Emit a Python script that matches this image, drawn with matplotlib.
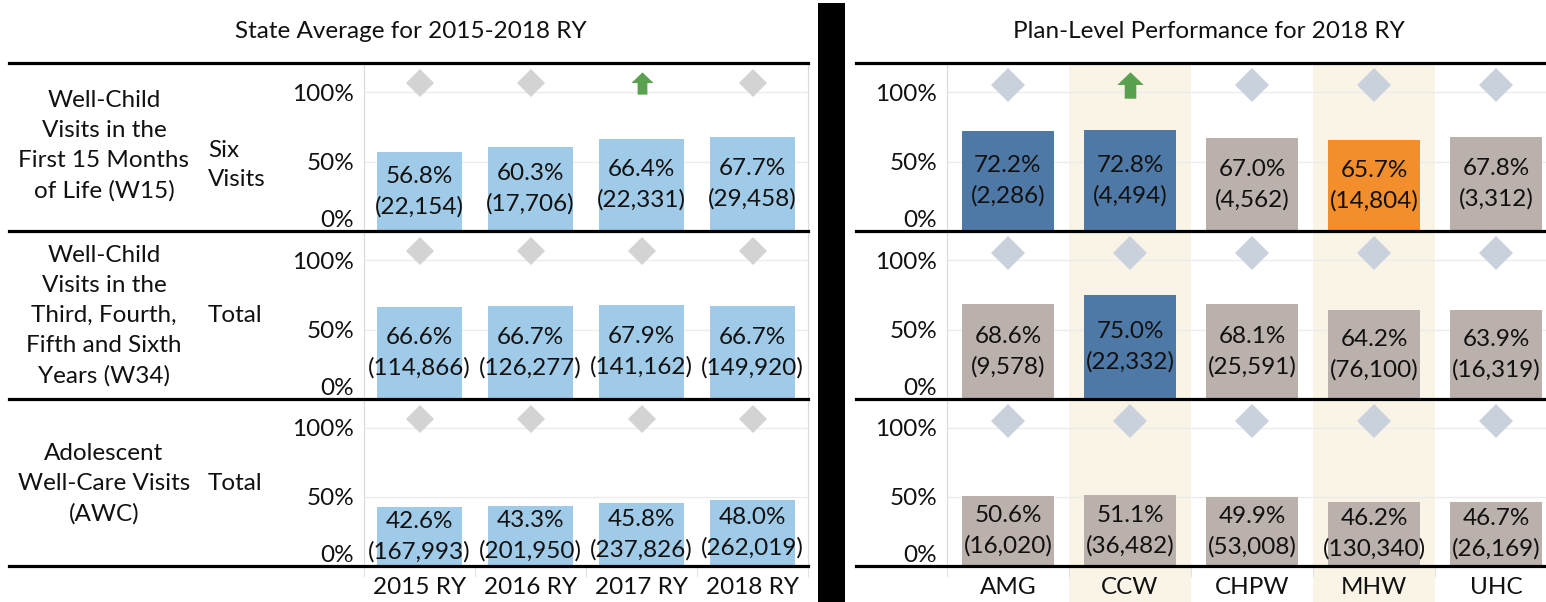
import matplotlib
matplotlib.use('Agg')
import matplotlib.pyplot as plt
from matplotlib.path import Path
from matplotlib.lines import Line2D
from matplotlib.patches import Rectangle

plt.rcParams['font.family'] = ['Lato', 'DejaVu Sans']

# ---------------- data ----------------
years = ['2015 RY', '2016 RY', '2017 RY', '2018 RY']
plans = ['AMG', 'CCW', 'CHPW', 'MHW', 'UHC']

measure_names = ['Well-Child\nVisits in the\nFirst 15 Months\nof Life (W15)',
                 'Well-Child\nVisits in the\nThird, Fourth,\nFifth and Sixth\nYears (W34)',
                 'Adolescent\nWell-Care Visits\n(AWC)']
submeasures = ['Six\nVisits', 'Total', 'Total']

state_rates = [[56.8, 60.3, 66.4, 67.7],
               [66.6, 66.7, 67.9, 66.7],
               [42.6, 43.3, 45.8, 48.0]]
state_denoms = [[22154, 17706, 22331, 29458],
                [114866, 126277, 141162, 149920],
                [167993, 201950, 237826, 262019]]
# 'up' = significant increase, 'ns' = no significant change
state_flags = [['ns', 'ns', 'up', 'ns'],
               ['ns', 'ns', 'ns', 'ns'],
               ['ns', 'ns', 'ns', 'ns']]

plan_rates = [[72.2, 72.8, 67.0, 65.7, 67.8],
              [68.6, 75.0, 68.1, 64.2, 63.9],
              [50.6, 51.1, 49.9, 46.2, 46.7]]
plan_denoms = [[2286, 4494, 4562, 14804, 3312],
               [9578, 22332, 25591, 76100, 16319],
               [16020, 36482, 53008, 130340, 26169]]
plan_flags = [['ns', 'up', 'ns', 'ns', 'ns'],
              ['ns', 'ns', 'ns', 'ns', 'ns'],
              ['ns', 'ns', 'ns', 'ns', 'ns']]
# comparison to state average
plan_status = [['above', 'above', 'same', 'below', 'same'],
               ['same', 'above', 'same', 'same', 'same'],
               ['same', 'same', 'same', 'same', 'same']]

# ---------------- style ----------------
W, H = 1546, 602
LIGHT_BLUE = '#a0cbe8'
STATUS_COLORS = {'above': '#4e79a7', 'same': '#bab0ac', 'below': '#f28e2b'}
BAND = '#faf4e7'
GREEN = '#59a14f'
TXT = '#111111'
GRID = '#ececec'
FS = 17.5
LS = 1.52

UP_ARROW = Path([(-0.22, -0.5), (0.22, -0.5), (0.22, 0.02), (0.5, 0.02),
                 (0.0, 0.5), (-0.5, 0.02), (-0.22, 0.02), (-0.22, -0.5)],
                [Path.MOVETO] + [Path.LINETO] * 6 + [Path.CLOSEPOLY])


def fx(px):
    return px / W


def fy(py):
    return 1 - py / H


row_edges = [63, 231, 399, 566]

fig = plt.figure(figsize=(W / 100, H / 100), dpi=100)


def make_row_axes(x0, x1, r):
    top, bot = row_edges[r], row_edges[r + 1]
    ax = fig.add_axes([fx(x0), fy(bot), fx(x1) - fx(x0), (bot - top) / H])
    ax.set_facecolor('none')
    ax.set_ylim(0, 1.21)
    ax.set_yticks([0, 0.5, 1.0])
    ax.set_yticklabels(['0%', '50%', '100%'], fontsize=FS, color=TXT)
    ax.get_yticklabels()[0].set_va('bottom')
    ax.tick_params(axis='y', length=0, pad=7)
    ax.yaxis.grid(True, color=GRID, lw=1)
    ax.set_axisbelow(True)
    for s in ['top', 'bottom']:
        ax.spines[s].set_visible(False)
    for s in ['left', 'right']:
        ax.spines[s].set_color('#dadada')
        ax.spines[s].set_linewidth(0.8)
    return ax


def draw_rows(x0, x1, cats, rates, denoms, flags, colors, dsize, dcolor, asize, dy, bw):
    axes = []
    n = len(cats)
    for r in range(3):
        ax = make_row_axes(x0, x1, r)
        ax.set_xlim(-0.5, n - 0.5)
        vals = [v / 100 for v in rates[r]]
        ax.bar(range(n), vals, width=bw, color=colors[r], zorder=2)
        for i, (v, d) in enumerate(zip(rates[r], denoms[r])):
            ax.text(i, v / 200, f'{v:.1f}%\n({d:,})', ha='center', va='center',
                    fontsize=FS, color=TXT, linespacing=LS, zorder=3)
            if flags[r][i] == 'up':
                ax.plot(i, dy, marker=UP_ARROW, ms=asize, color=GREEN, mew=0, zorder=3)
            else:
                ax.plot(i, dy, marker='D', ms=dsize, color=dcolor, mew=0, zorder=3)
        ax.set_xticks(range(n))
        ax.set_xticklabels([])
        ax.tick_params(axis='x', which='major', length=0)
        axes.append(ax)
    bottom = axes[-1]
    bottom.set_xticklabels(cats, fontsize=FS, color=TXT)
    bottom.tick_params(axis='x', which='major', pad=8)
    bottom.set_xticks([k - 0.5 for k in range(n + 1)], minor=True)
    bottom.tick_params(axis='x', which='minor', length=8, color='#e3e3e3', width=0.8)
    return axes


# ---------------- left panel: state average ----------------
draw_rows(364, 808, years, state_rates, state_denoms, state_flags,
          [[LIGHT_BLUE] * 4] * 3, 14, '#d3d3d3', 16, 1.065, 0.76)

fig.text(fx(411), fy(32), 'State Average for 2015-2018 RY', ha='center', va='center',
         fontsize=17.5, color=TXT)

header_y = [146, 316, 484]
sub_y = [165, 316, 484]
for r in range(3):
    fig.text(fx(104), fy(header_y[r]), measure_names[r], ha='center', va='center',
             fontsize=FS, color=TXT, linespacing=LS)
    fig.text(fx(208), fy(sub_y[r]), submeasures[r], ha='left', va='center',
             fontsize=FS, color=TXT, linespacing=LS)

# ---------------- right panel: plan level ----------------
band_ax = fig.add_axes([fx(947), 0, fx(1557) - fx(947), fy(63)])
band_ax.set_xlim(-0.5, len(plans) - 0.5)
band_ax.axis('off')
for i in range(1, len(plans), 2):
    band_ax.axvspan(i - 0.5, i + 0.5, color=BAND, lw=0)

plan_colors = [[STATUS_COLORS[s] for s in row] for row in plan_status]
draw_rows(947, 1557, plans, plan_rates, plan_denoms, plan_flags,
          plan_colors, 17, '#c9d2dc', 19, 1.05, 0.75)

fig.text(fx(1209), fy(32), 'Plan-Level Performance for 2018 RY', ha='center', va='center',
         fontsize=17.5, color=TXT)

# ---------------- row rules and divider ----------------
for y in row_edges:
    fig.add_artist(Line2D([fx(9), fx(808)], [fy(y), fy(y)], color='black', lw=2.3))
    fig.add_artist(Line2D([fx(856), fx(1546)], [fy(y), fy(y)], color='black', lw=2.3))
fig.add_artist(Rectangle((fx(818), 0), fx(845) - fx(818), fy(3), color='black', lw=0))

fig.savefig('out.png', dpi=100, facecolor='white')
